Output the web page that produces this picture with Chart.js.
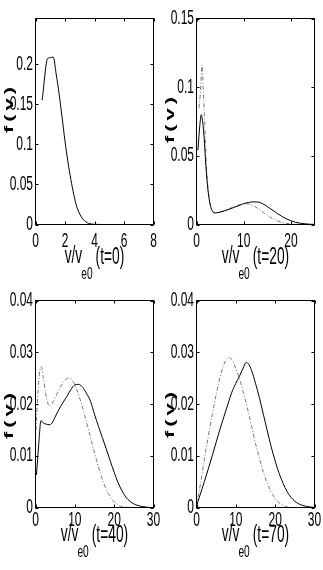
<!DOCTYPE html>
<html>
<head>
<meta charset="utf-8">
<script src="https://cdn.jsdelivr.net/npm/chart.js@4/dist/chart.umd.min.js"></script>
<style>
  body { margin: 0; background: #fff; width: 323px; height: 570px; position: relative; overflow: hidden; }
  canvas { position: absolute; }
</style>
</head>
<body>
<canvas id="c0" width="161" height="280" style="left:0;top:0"></canvas>
<canvas id="c1" width="162" height="280" style="left:161px;top:0"></canvas>
<canvas id="c2" width="161" height="290" style="left:0;top:280px"></canvas>
<canvas id="c3" width="162" height="290" style="left:161px;top:280px"></canvas>
<script>
// t=0
const T0_V = [0.45, 0.82, 1.0, 1.2, 1.4, 1.6, 1.8, 2.0, 2.2, 2.4, 2.6, 2.8, 3.0, 3.2, 3.4, 3.6, 3.8, 4.0, 4.5, 5, 6, 7, 8];
const T0_F = [0.155, 0.207, 0.208, 0.209, 0.188, 0.163, 0.134, 0.104, 0.078, 0.056, 0.037, 0.022, 0.013, 0.007, 0.0035, 0.0015, 0.0006, 0.0002, 0, 0, 0, 0, 0];

// t=20
const T20_V = [0.3, 0.7, 1.0, 1.3, 1.6, 2.0, 2.4, 2.8, 3.2, 3.6, 4.0, 5, 6, 7, 8, 9, 10, 11, 12, 13, 14, 15, 16, 17, 18, 19, 20, 21, 22, 23, 24, 25];
const T20_F = [0.054, 0.072, 0.080, 0.075, 0.064, 0.042, 0.026, 0.016, 0.011, 0.0088, 0.0085, 0.0090, 0.0100, 0.0112, 0.0125, 0.0138, 0.0152, 0.0160, 0.0165, 0.0164, 0.0152, 0.0131, 0.0107, 0.0083, 0.0061, 0.0042, 0.0027, 0.0016, 0.0009, 0.0005, 0.0002, 0.0001];
const T20_V2 = [0.5, 0.8, 1.0, 1.2, 1.4, 1.7, 2.0, 2.4, 2.8, 3.2, 3.6, 4, 5, 6, 7, 8, 9, 10, 11, 12, 13, 14, 15, 16, 17, 18, 19, 20, 21, 22];
const T20_F2 = [0.085, 0.095, 0.108, 0.116, 0.100, 0.078, 0.050, 0.028, 0.017, 0.011, 0.0088, 0.0085, 0.0090, 0.0102, 0.0116, 0.0130, 0.0143, 0.0152, 0.0150, 0.0138, 0.0117, 0.0092, 0.0067, 0.0045, 0.0028, 0.0016, 0.0008, 0.0004, 0.0001, 0];

// t=40
const T40_V = [0.25, 0.8, 1.4, 2.0, 2.8, 3.5, 4.2, 5, 6, 7, 8, 9, 10, 11, 12, 13, 14, 15, 16, 17, 18, 19, 20, 21, 22, 23, 24, 25, 26, 27, 28, 29, 30];
const T40_F = [0.0063, 0.0120, 0.0168, 0.0163, 0.0161, 0.0160, 0.0163, 0.0175, 0.0190, 0.0203, 0.0215, 0.0228, 0.0237, 0.0238, 0.0232, 0.0220, 0.0205, 0.0180, 0.0157, 0.0135, 0.0113, 0.0090, 0.0068, 0.0048, 0.0032, 0.0020, 0.0012, 0.0007, 0.0004, 0.0002, 0.0001, 0, 0];
const T40_V2 = [0.1, 0.6, 1.0, 1.5, 2.0, 2.6, 3.2, 3.8, 4.5, 5.5, 6.5, 7.5, 8.5, 9.5, 10.5, 11.5, 12.5, 13.5, 14.5, 15.5, 16.5, 17.5, 18.5, 19.5, 20.5, 21.5, 22.5, 24];
const T40_F2 = [0.015, 0.022, 0.026, 0.0272, 0.025, 0.022, 0.0200, 0.0196, 0.0205, 0.0220, 0.0235, 0.0246, 0.0250, 0.0244, 0.0228, 0.0205, 0.0178, 0.0150, 0.0120, 0.0092, 0.0066, 0.0044, 0.0027, 0.0015, 0.0008, 0.0003, 0.0001, 0];

// t=70
const T70_V = [0, 2, 4, 6, 8, 9, 10, 11, 12, 12.6, 13.2, 14, 15, 16, 17, 18, 19, 20, 21, 22, 23, 24, 25, 26, 27, 28, 29, 30];
const T70_F = [0.0003, 0.0050, 0.0100, 0.0152, 0.0200, 0.0223, 0.0240, 0.0255, 0.0272, 0.0280, 0.0278, 0.0265, 0.0240, 0.0212, 0.0180, 0.0148, 0.0117, 0.0090, 0.0066, 0.0047, 0.0031, 0.0020, 0.0012, 0.0007, 0.0004, 0.0002, 0.0001, 0];
const T70_V2 = [0, 1, 2, 3, 4, 5, 6, 7, 8, 9, 10, 11, 12, 13, 14, 15, 16, 17, 18, 19, 20, 21, 22, 23, 24];
const T70_F2 = [0.0003, 0.0045, 0.0093, 0.0138, 0.0180, 0.0218, 0.0252, 0.0277, 0.0289, 0.0286, 0.0268, 0.0247, 0.0220, 0.0190, 0.0157, 0.0124, 0.0095, 0.0068, 0.0047, 0.0030, 0.0017, 0.0009, 0.0004, 0.0001, 0];

// ticks
const X_TICKS_0 = [0, 2, 4, 6, 8];
const X_TICKS_20 = [0, 10, 20];
const X_TICKS_30 = [0, 10, 20, 30];
const Y_TICKS_0 = [0, 0.05, 0.1, 0.15, 0.2];
const Y_TICKS_20 = [0, 0.05, 0.1, 0.15];
const Y_TICKS_40 = [0, 0.01, 0.02, 0.03, 0.04];

const FONT = "'Liberation Sans', Arial, sans-serif";
const SQUISH = 0.6; // 原圖被水平壓縮，文字跟著變窄

const pts = (vs, fs) => vs.map((v, i) => ({ x: v, y: fs[i] }));

function squishText(ctx, text, x, y, align, baseline) {
  ctx.save();
  ctx.translate(x, y);
  ctx.scale(SQUISH, 1);
  ctx.textAlign = align;
  ctx.textBaseline = baseline;
  ctx.fillText(text, 0, 0);
  ctx.restore();
}

// 框線、內側刻度、刻度文字、軸標題
const boxPlugin = {
  id: 'box',
  afterDraw(chart, args, opts) {
    const { ctx, chartArea: a, scales: { x, y } } = chart;
    ctx.save();
    ctx.strokeStyle = '#000';
    ctx.lineWidth = 1;
    ctx.strokeRect(a.left, a.top, a.right - a.left, a.bottom - a.top);
    ctx.beginPath();
    x.ticks.forEach(t => {
      const px = Math.round(x.getPixelForValue(t.value)) + 0.5;
      ctx.moveTo(px, a.bottom); ctx.lineTo(px, a.bottom - 3);
      ctx.moveTo(px, a.top); ctx.lineTo(px, a.top + 3);
    });
    y.ticks.forEach(t => {
      const py = Math.round(y.getPixelForValue(t.value)) + 0.5;
      ctx.moveTo(a.left, py); ctx.lineTo(a.left + 3, py);
      ctx.moveTo(a.right, py); ctx.lineTo(a.right - 3, py);
    });
    ctx.stroke();

    ctx.fillStyle = '#000';
    ctx.font = '20px ' + FONT;
    x.ticks.forEach(t => {
      squishText(ctx, String(t.value), x.getPixelForValue(t.value), a.bottom + opts.tickDy, 'center', 'middle');
    });
    y.ticks.forEach(t => {
      squishText(ctx, String(t.value), a.left - 2.5, y.getPixelForValue(t.value), 'right', 'middle');
    });

    // v/v_e0 (t=..)
    const main = '23px ' + FONT, sub = '17px ' + FONT;
    ctx.font = main;
    const w1 = ctx.measureText('v/v').width * SQUISH;
    const w3 = ctx.measureText(opts.rest).width * SQUISH;
    ctx.font = sub;
    const w2 = ctx.measureText('e0').width * SQUISH;
    const gap = 2;
    const cx = (a.left + a.right) / 2 - (w1 + w2 + w3 + gap) / 2;
    const by = a.bottom + opts.titleOffset;
    ctx.font = main;
    squishText(ctx, 'v/v', cx, by, 'left', 'alphabetic');
    ctx.font = sub;
    squishText(ctx, 'e0', cx + w1 - 1, by + 16, 'left', 'alphabetic');
    ctx.font = main;
    squishText(ctx, opts.rest, cx + w1 + w2 + gap, by + 1, 'left', 'alphabetic');

    // f(v)，旋轉後高度方向被壓縮
    ctx.save();
    ctx.translate(9, opts.labelY);
    ctx.scale(SQUISH, 1);
    ctx.rotate(-Math.PI / 2);
    ctx.font = 'bold 22px ' + FONT;
    ctx.letterSpacing = '4px';
    ctx.textAlign = 'center';
    ctx.textBaseline = 'middle';
    ctx.fillText('f(v)', 0, 0);
    ctx.restore();

    ctx.restore();
  }
};

function makePanel(id, cfg) {
  const canvas = document.getElementById(id);
  const datasets = [
    {
      data: pts(cfg.v, cfg.f),
      borderColor: '#000',
      borderWidth: 1,
      pointRadius: 0,
      cubicInterpolationMode: 'monotone'
    }
  ];
  if (cfg.v2) {
    datasets.push({
      data: pts(cfg.v2, cfg.f2),
      borderColor: '#777',
      borderWidth: 1,
      borderDash: [4, 2, 1, 2],
      pointRadius: 0,
      cubicInterpolationMode: 'monotone'
    });
  }
  return new Chart(canvas, {
    type: 'line',
    data: { datasets },
    plugins: [boxPlugin],
    options: {
      responsive: false,
      animation: false,
      layout: { padding: { top: cfg.padTop, right: cfg.padRight, left: 0, bottom: 0 } },
      plugins: {
        legend: { display: false },
        tooltip: { enabled: false },
        box: { rest: cfg.rest, titleOffset: cfg.titleOffset, tickDy: cfg.tickDy, labelY: cfg.labelY }
      },
      scales: {
        x: {
          type: 'linear',
          min: 0,
          max: cfg.xMax,
          grid: { display: false },
          border: { display: false },
          afterBuildTicks: s => { s.ticks = cfg.xTicks.map(v => ({ value: v })); },
          afterFit: s => { s.height = cfg.xHeight; s.paddingLeft = 0; s.paddingRight = 0; },
          ticks: { display: false }
        },
        y: {
          min: 0,
          max: cfg.yMax,
          grid: { display: false },
          border: { display: false },
          afterBuildTicks: s => { s.ticks = cfg.yTicks.map(v => ({ value: v })); },
          afterFit: s => { s.width = 35.5; s.paddingTop = 0; s.paddingBottom = 0; },
          ticks: { display: false }
        }
      }
    }
  });
}

makePanel('c0', {
  v: T0_V, f: T0_F,
  xMax: 8, yMax: 0.257, xTicks: X_TICKS_0, yTicks: Y_TICKS_0,
  padTop: 18.5, padRight: 7.5, xHeight: 55.5, tickDy: 16.5, titleOffset: 38, labelY: 108, rest: '(t=0)'
});
makePanel('c1', {
  v: T20_V, f: T20_F, v2: T20_V2, f2: T20_F2,
  xMax: 25, yMax: 0.15, xTicks: X_TICKS_20, yTicks: Y_TICKS_20,
  padTop: 18.5, padRight: 8.5, xHeight: 55.5, tickDy: 16.5, titleOffset: 38, labelY: 118, rest: '(t=20)'
});
makePanel('c2', {
  v: T40_V, f: T40_F, v2: T40_V2, f2: T40_F2,
  xMax: 30, yMax: 0.04, xTicks: X_TICKS_30, yTicks: Y_TICKS_40,
  padTop: 20.5, padRight: 7.5, xHeight: 62.5, tickDy: 12.5, titleOffset: 33, labelY: 134, rest: '(t=40)'
});
makePanel('c3', {
  v: T70_V, f: T70_F, v2: T70_V2, f2: T70_F2,
  xMax: 30, yMax: 0.04, xTicks: X_TICKS_30, yTicks: Y_TICKS_40,
  padTop: 20.5, padRight: 8.5, xHeight: 62.5, tickDy: 12.5, titleOffset: 33, labelY: 133, rest: '(t=70)'
});
</script>
</body>
</html>
